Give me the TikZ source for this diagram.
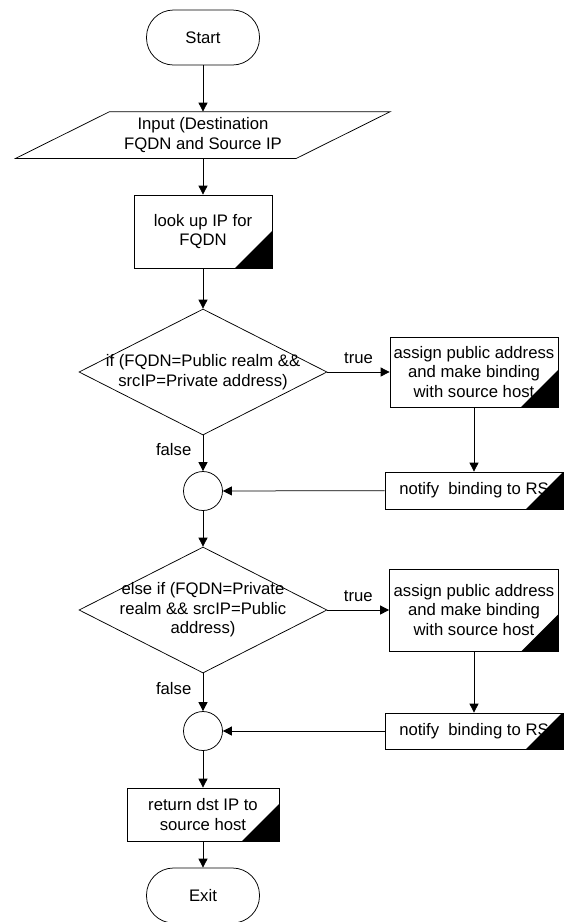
\documentclass[tikz,border=0pt]{standalone}
\usepackage{fontspec}
\setmainfont{Liberation Sans}
\usetikzlibrary{shapes.geometric}
\usetikzlibrary{arrows.meta}

\begin{document}
\begin{tikzpicture}[x=1pt,y=-1pt,
  font=\fontsize{16.7}{19.5}\selectfont,
  line width=0.75pt,
  >={Triangle[length=9pt,width=9pt]},
  term/.style={draw,rounded corners=27pt,minimum width=113pt,minimum height=55pt,inner sep=0pt},
  proc/.style={draw,align=center,inner sep=0pt,
    path picture={\fill (path picture bounding box.south east) -- ++(-37pt,0pt) -- ++(37pt,37pt) -- cycle;}},
  decide/.style={draw,diamond,minimum width=248pt,minimum height=126pt,inner sep=0pt},
  joint/.style={draw,circle,minimum size=39pt,inner sep=0pt}
]
\useasboundingbox (0,0) rectangle (564,922);

\node[term] (start) at (203,37.5) {Start};
\node[align=center,inner sep=0pt,minimum width=280pt,minimum height=46pt] (input) at (203,135)
  {Input (Destination\\FQDN and Source IP};
\draw ([xshift=-47pt]input.south west) -- ([xshift=-47pt]input.south east)
  -- ([xshift=47pt]input.north east) -- ([xshift=47pt]input.north west) -- cycle;
\node[proc,minimum width=138pt,minimum height=73pt] (look) at (203,231.5) {look up IP for\\FQDN};

\node[decide,label={[align=center]center:{if (FQDN=Public realm \&\&\\srcIP=Private address)}}] (dec1) at (203,372) {};
\node[proc,minimum width=168pt,minimum height=70pt] (assign1) at (474,372)
  {assign public address\\and make binding\\with source host};
\node[proc,minimum width=178pt,minimum height=37pt] (notify1) at (474,490.5) {notify\ \ binding to RS};
\node[joint] (join1) at (203,491) {};

\node[decide,label={[align=center]center:{else if (FQDN=Private\\realm \&\& srcIP=Public\\address)}}] (dec2) at (203,610) {};
\node[proc,minimum width=169pt,minimum height=82pt] (assign2) at (474,610)
  {assign public address\\and make binding\\with source host};
\node[proc,minimum width=178pt,minimum height=36pt] (notify2) at (474,731) {notify\ \ binding to RS};
\node[joint] (join2) at (203,731) {};

\node[proc,minimum width=152pt,minimum height=53pt] (ret) at (203,814.5) {return dst IP to\\source host};
\node[term] (exit) at (203,895.5) {Exit};

\foreach \a/\b in {start/input, input/look, look/dec1, assign1/notify1, notify1/join1,
                   join1/dec2, assign2/notify2, notify2/join2, join2/ret, ret/exit}
    \draw[->] (\a) -- (\b);

\draw[->] (dec1) -- node[above=5pt] {true} (assign1);
\draw[->] (dec1) -- node[left=8pt,pos=0.4] {false} (join1);
\draw[->] (dec2) -- node[above=5pt] {true} (assign2);
\draw[->] (dec2) -- node[left=8pt,pos=0.4] {false} (join2);
%
\end{tikzpicture}
\end{document}
